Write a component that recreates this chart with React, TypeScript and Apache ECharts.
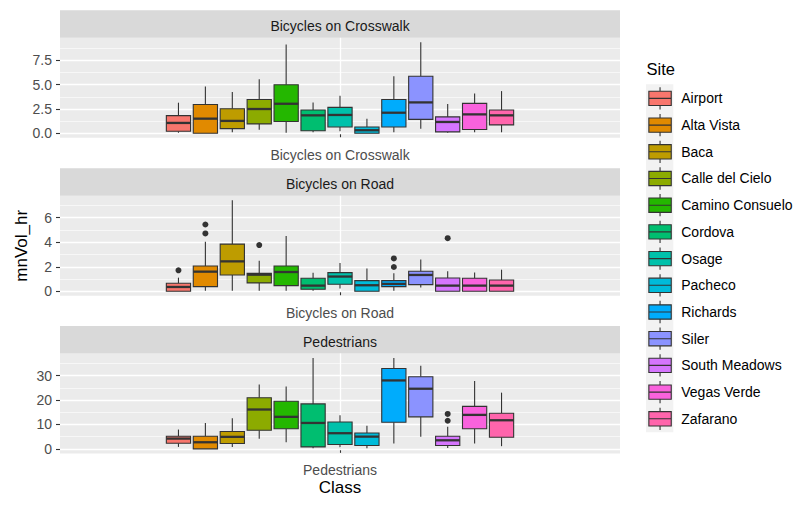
import React, { useEffect, useRef } from "react";
import * as echarts from "echarts";

// ---------- data ----------
const sites = [
  "Airport",
  "Alta Vista",
  "Baca",
  "Calle del Cielo",
  "Camino Consuelo",
  "Cordova",
  "Osage",
  "Pacheco",
  "Richards",
  "Siler",
  "South Meadows",
  "Vegas Verde",
  "Zafarano",
];

const classes = ["Bicycles on Crosswalk", "Bicycles on Road", "Pedestrians"];

// box statistics per site: [min, Q1, median, Q3, max]
const crosswalkStats = [
  [0.05, 0.2, 1.06, 1.81, 3.14],
  [0, 0, 1.5, 2.96, 4.8],
  [0.1, 0.48, 1.27, 2.52, 4.23],
  [0.35, 0.96, 2.49, 3.47, 5.56],
  [0.04, 1.2, 3.03, 4.98, 9.13],
  [0.1, 0.25, 1.84, 2.39, 3.17],
  [0.2, 0.65, 1.88, 2.66, 3.85],
  [0, 0, 0.31, 0.65, 1.5],
  [0.1, 0.65, 2.11, 3.47, 5.86],
  [0.45, 1.43, 3.17, 5.86, 9.34],
  [0.04, 0.14, 1.16, 1.68, 3.0],
  [0.1, 0.38, 1.94, 3.07, 4.09],
  [0.1, 0.86, 1.84, 2.39, 4.33],
];

const roadStats = [
  [0, 0, 0.35, 0.65, 1.11],
  [0.05, 0.38, 1.6, 2.06, 4.04],
  [0.05, 1.33, 2.44, 3.85, 7.42],
  [0.05, 0.68, 1.35, 1.46, 2.49],
  [0.05, 0.46, 1.57, 2.06, 4.5],
  [0.05, 0.16, 0.46, 1.06, 1.52],
  [0.22, 0.57, 1.2, 1.52, 2.3],
  [0, 0, 0.49, 0.87, 1.85],
  [0.05, 0.38, 0.6, 0.87, 1.46],
  [0.3, 0.54, 1.33, 1.63, 2.6],
  [0, 0, 0.46, 1.08, 1.63],
  [0, 0, 0.46, 1.06, 1.54],
  [0, 0, 0.46, 0.92, 1.76],
];

const pedestrianStats = [
  [0.8, 2.3, 4.2, 5.16, 7.9],
  [0, 0, 2.7, 5.16, 10.6],
  [0.8, 2.2, 4.9, 7.1, 12.5],
  [4.1, 7.6, 16.1, 20.9, 26.3],
  [2.7, 8.2, 13.1, 19.5, 25.5],
  [0.25, 0.8, 10.6, 18.4, 37.2],
  [0.7, 1.8, 6.4, 11.0, 13.8],
  [0.25, 1.35, 5.0, 6.5, 9.5],
  [2.2, 10.9, 28.0, 32.9, 37.2],
  [5.0, 13.1, 24.6, 29.5, 34.0],
  [0.4, 1.35, 3.5, 5.16, 9.0],
  [2.2, 8.2, 13.9, 17.4, 27.8],
  [1.1, 4.75, 11.7, 14.6, 23.0],
];

// outliers: [site, value]
const crosswalkOutliers: [string, number][] = [];
const roadOutliers: [string, number][] = [
  ["Airport", 1.71],
  ["Alta Vista", 4.72],
  ["Alta Vista", 5.45],
  ["Calle del Cielo", 3.77],
  ["Richards", 1.98],
  ["Richards", 2.68],
  ["South Meadows", 4.33],
];
const pedestrianOutliers: [string, number][] = [
  ["South Meadows", 11.5],
  ["South Meadows", 14.3],
];

// y axes: ranges, major ticks + labels, minor grid values
const crosswalkRange = [-0.467, 9.807];
const roadRange = [-0.371, 7.791];
const pedestrianRange = [-1.86, 39.06];

const crosswalkTicks = [0, 2.5, 5, 7.5];
const crosswalkTickLabels = ["0.0", "2.5", "5.0", "7.5"];
const crosswalkMinor = [1.25, 3.75, 6.25, 8.75];

const roadTicks = [0, 2, 4, 6];
const roadTickLabels = ["0", "2", "4", "6"];
const roadMinor = [1, 3, 5, 7];

const pedestrianTicks = [0, 10, 20, 30];
const pedestrianTickLabels = ["0", "10", "20", "30"];
const pedestrianMinor = [5, 15, 25, 35];

// ---------- styles ----------
const SITE_COLORS = [
  "#F8766D",
  "#E18A00",
  "#BE9C00",
  "#8CAB00",
  "#24B700",
  "#00BE70",
  "#00C1AB",
  "#00BBDA",
  "#00ACFC",
  "#8B93FF",
  "#D575FE",
  "#F962DD",
  "#FF65AC",
];

const FONT = "'Liberation Sans', Arial, Helvetica, sans-serif";
const PANEL_LEFT = 60;
const PANEL_W = 560;
const PANEL_H = 100;
const PANEL_TOPS = [37.8, 195.8, 353.4];
const STRIP_H = 27.5;
const DATA_LEFT = 165;
const DATA_W = 350;
const OUTLINE = "#333333";

const LEGEND_ICON =
  "path://M112,0L112,40M0,40L224,40L224,183L0,183ZM0,111.5L224,111.5M112,183L112,223";

export default function App() {
  const ref = useRef<HTMLDivElement>(null);

  useEffect(() => {
    if (!ref.current) return;
    document.body.style.margin = "0";
    const chart = echarts.init(ref.current, undefined, { renderer: "svg" });

    const facets = [
      {
        stats: crosswalkStats,
        outliers: crosswalkOutliers,
        range: crosswalkRange,
        ticks: crosswalkTicks,
        labels: crosswalkTickLabels,
        minor: crosswalkMinor,
      },
      {
        stats: roadStats,
        outliers: roadOutliers,
        range: roadRange,
        ticks: roadTicks,
        labels: roadTickLabels,
        minor: roadMinor,
      },
      {
        stats: pedestrianStats,
        outliers: pedestrianOutliers,
        range: pedestrianRange,
        ticks: pedestrianTicks,
        labels: pedestrianTickLabels,
        minor: pedestrianMinor,
      },
    ];

    const grid: any[] = [];
    const xAxis: any[] = [];
    const yAxis: any[] = [];
    const series: any[] = [];
    const graphic: any[] = [];

    facets.forEach((fc, f) => {
      const top = PANEL_TOPS[f];
      grid.push({
        left: PANEL_LEFT,
        top,
        width: PANEL_W,
        height: PANEL_H,
        show: true,
        backgroundColor: "#EBEBEB",
        borderWidth: 0,
      });
      grid.push({
        left: DATA_LEFT,
        top,
        width: DATA_W,
        height: PANEL_H,
        show: false,
      });

      xAxis.push({
        type: "category",
        gridIndex: 2 * f,
        data: [classes[f]],
        axisLine: { show: false },
        axisTick: {
          show: true,
          alignWithLabel: true,
          length: 4,
          lineStyle: { color: OUTLINE, width: 1.1 },
        },
        axisLabel: { color: "#4D4D4D", fontSize: 14, margin: 10, fontFamily: FONT },
        splitLine: {
          show: true,
          alignWithLabel: true,
          lineStyle: { color: "#FFFFFF", width: 1.3 },
        },
        name: f === 2 ? "Class" : "",
        nameLocation: "middle",
        nameGap: 26,
        nameTextStyle: { fontSize: 17, color: "#000000", fontFamily: FONT },
      });
      xAxis.push({
        type: "category",
        gridIndex: 2 * f + 1,
        data: sites,
        show: false,
      });

      yAxis.push({
        type: "value",
        gridIndex: 2 * f,
        min: fc.range[0],
        max: fc.range[1],
        axisLine: { show: false },
        axisTick: {
          show: true,
          length: 4,
          customValues: fc.ticks,
          lineStyle: { color: OUTLINE, width: 1.1 },
        },
        axisLabel: {
          customValues: fc.ticks,
          formatter: (v: number) => {
            const i = fc.ticks.findIndex((t) => Math.abs(t - v) < 1e-9);
            return i >= 0 ? fc.labels[i] : "";
          },
          color: "#4D4D4D",
          fontSize: 14,
          margin: 8,
          fontFamily: FONT,
        },
        splitLine: { show: true, lineStyle: { color: "#FFFFFF", width: 1.3 } },
        name: f === 1 ? "mnVol_hr" : "",
        nameLocation: "middle",
        nameGap: 30,
        nameRotate: 90,
        nameTextStyle: { fontSize: 17, color: "#000000", fontFamily: FONT },
        z: 1,
      });
      yAxis.push({
        type: "value",
        gridIndex: 2 * f,
        min: fc.range[0],
        max: fc.range[1],
        axisLine: { show: false },
        axisTick: { show: false, customValues: fc.minor },
        axisLabel: { show: false, customValues: fc.minor },
        splitLine: { show: true, lineStyle: { color: "#FFFFFF", width: 0.6 } },
        z: 0,
      });
      yAxis.push({
        type: "value",
        gridIndex: 2 * f + 1,
        min: fc.range[0],
        max: fc.range[1],
        show: false,
      });

      series.push({
        type: "custom",
        name: classes[f],
        xAxisIndex: 2 * f + 1,
        yAxisIndex: 3 * f + 2,
        z: 3,
        silent: true,
        encode: { x: 0, y: [1, 2, 3, 4, 5] },
        data: fc.stats.map((s, i) => [i, ...s]),
        renderItem: (params: any, api: any) => {
          const idx = api.value(0);
          const pMin = api.coord([idx, api.value(1)]);
          const pQ1 = api.coord([idx, api.value(2)]);
          const pMed = api.coord([idx, api.value(3)]);
          const pQ3 = api.coord([idx, api.value(4)]);
          const pMax = api.coord([idx, api.value(5)]);
          const xc = pMed[0];
          const w = api.size([1, 0])[0] * 0.9;
          const lineStyle = { stroke: OUTLINE, lineWidth: 1.1 };
          return {
            type: "group",
            children: [
              {
                type: "line",
                shape: { x1: xc, y1: pMin[1], x2: xc, y2: pQ1[1] },
                style: lineStyle,
              },
              {
                type: "line",
                shape: { x1: xc, y1: pQ3[1], x2: xc, y2: pMax[1] },
                style: lineStyle,
              },
              {
                type: "rect",
                shape: {
                  x: xc - w / 2,
                  y: pQ3[1],
                  width: w,
                  height: pQ1[1] - pQ3[1],
                },
                style: { fill: SITE_COLORS[idx], stroke: OUTLINE, lineWidth: 1.1 },
              },
              {
                type: "line",
                shape: { x1: xc - w / 2, y1: pMed[1], x2: xc + w / 2, y2: pMed[1] },
                style: { stroke: OUTLINE, lineWidth: 2.3 },
              },
            ],
          };
        },
      });

      sites.forEach((site) => {
        series.push({
          type: "scatter",
          name: site,
          xAxisIndex: 2 * f + 1,
          yAxisIndex: 3 * f + 2,
          z: 4,
          silent: true,
          symbol: "circle",
          symbolSize: 6,
          itemStyle: { color: OUTLINE, opacity: 1 },
          data: fc.outliers.filter((o) => o[0] === site).map((o) => [o[0], o[1]]),
        });
      });

      // facet strip
      graphic.push({
        type: "rect",
        shape: { x: PANEL_LEFT, y: top - STRIP_H, width: PANEL_W, height: STRIP_H },
        style: { fill: "#D9D9D9" },
        z: 0,
      });
      graphic.push({
        type: "text",
        x: PANEL_LEFT + PANEL_W / 2,
        y: top - STRIP_H / 2 + 2,
        style: {
          text: classes[f],
          align: "center",
          verticalAlign: "middle",
          textAlign: "center",
          textVerticalAlign: "middle",
          fontSize: 14,
          fontFamily: FONT,
          fill: "#1A1A1A",
        },
        z: 1,
      });
    });

    // legend key background + title
    graphic.push({
      type: "rect",
      shape: { x: 646, y: 84.3, width: 27.3, height: 348 },
      style: { fill: "#F2F2F2" },
      z: 0,
    });
    graphic.push({
      type: "text",
      x: 646.5,
      y: 69,
      style: {
        text: "Site",
        align: "left",
        verticalAlign: "middle",
        textAlign: "left",
        textVerticalAlign: "middle",
        fontSize: 16.5,
        fontFamily: FONT,
        fill: "#000000",
      },
      z: 1,
    });

    chart.setOption({
      animation: false,
      textStyle: { fontFamily: FONT },
      grid,
      xAxis,
      yAxis,
      series,
      graphic,
      legend: {
        orient: "vertical",
        left: 648.3,
        top: 86.7,
        padding: 0,
        itemWidth: 22.4,
        itemHeight: 22.3,
        itemGap: 3.3,
        selectedMode: false,
        icon: LEGEND_ICON,
        textStyle: {
          fontSize: 14,
          color: "#000000",
          fontFamily: FONT,
          padding: [3, 0, 0, 5],
        },
        data: sites.map((s, i) => ({
          name: s,
          icon: LEGEND_ICON,
          itemStyle: {
            color: SITE_COLORS[i],
            borderColor: OUTLINE,
            borderWidth: 1.1,
            opacity: 1,
          },
        })),
        z: 5,
      },
    });

    return () => chart.dispose();
  }, []);

  return (
    <div
      ref={ref}
      style={{ width: 807, height: 512, position: "absolute", left: 0, top: 0 }}
    />
  );
}
